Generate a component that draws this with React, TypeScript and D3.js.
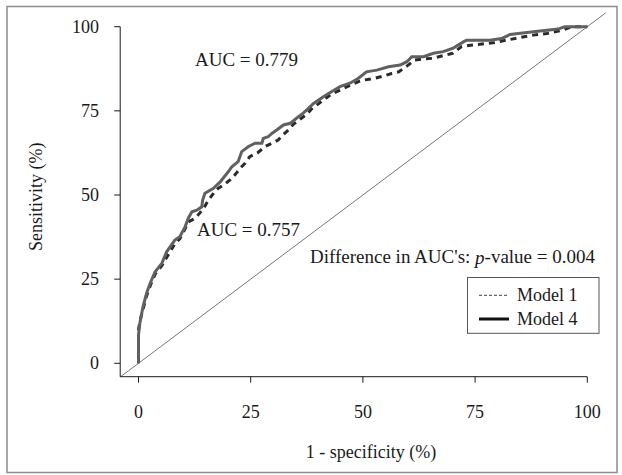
import React from "react";
import * as d3 from "d3";

const W = 622;
const H = 475;

// Model 4 (solid) ROC points: [1 - specificity %, sensitivity %]
const model4FPR = [0, 0, 0.3, 1.0, 1.8, 2.6, 3.7, 5.2, 6.3, 8.1, 9.2, 10.4, 11.1, 11.9, 13.0, 14.1, 14.3, 14.8, 16.7, 18.2, 20.0, 20.8, 22.2, 23.0, 24.5, 26.0, 27.5, 27.8, 28.9, 29.7, 30.8, 32.3, 33.8, 35.2, 36.7, 37.5, 38.2, 39.0, 41.2, 43.0, 44.9, 47.1, 49.0, 50.8, 53.1, 55.7, 58.3, 59.8, 60.9, 63.5, 65.7, 67.9, 70.1, 71.3, 72.4, 73.1, 78.3, 80.9, 82.8, 84.6, 89.5, 93.5, 95.0, 100];
const model4TPR = [0, 8.4, 11.9, 16.8, 20.8, 23.8, 27.2, 29.7, 33.2, 36.6, 37.6, 40.6, 43.1, 45.0, 45.5, 46.5, 48.5, 50.5, 52.0, 53.9, 56.9, 58.4, 59.9, 62.9, 64.4, 65.4, 65.4, 66.8, 67.3, 68.3, 69.3, 70.8, 71.3, 72.8, 74.3, 75.3, 76.2, 77.2, 79.2, 80.7, 82.2, 83.2, 84.7, 86.6, 87.1, 88.1, 88.6, 89.6, 91.1, 91.1, 92.1, 92.6, 93.6, 94.6, 95.5, 96.0, 96.0, 96.5, 97.7, 98.0, 98.7, 99.3, 100, 100];

// Model 1 (dashed) ROC points
const model1FPR = [0, 0, 0.3, 1.0, 1.8, 2.6, 3.7, 5.2, 6.3, 8.1, 9.2, 10.4, 11.1, 12.5, 13.3, 14.5, 15.6, 17.0, 17.8, 19.5, 20.4, 21.5, 22.6, 23.8, 24.8, 26.5, 28.2, 30.0, 31.1, 32.3, 33.4, 34.5, 36.0, 37.5, 38.5, 40.0, 41.5, 43.0, 45.0, 47.0, 49.0, 50.5, 52.7, 55.0, 56.4, 58.0, 60.0, 61.5, 63.5, 65.5, 67.9, 70.0, 72.0, 74.0, 76.1, 79.0, 82.0, 85.0, 88.0, 91.0, 94.6, 96.5, 100];
const model1TPR = [0, 10.0, 12.5, 16.0, 20.0, 23.0, 26.5, 29.0, 31.5, 35.5, 37.0, 40.0, 42.0, 43.0, 44.1, 46.0, 48.5, 51.0, 52.0, 53.5, 54.5, 56.0, 57.9, 59.5, 61.4, 62.5, 64.4, 65.5, 66.3, 68.0, 69.3, 71.0, 72.5, 74.0, 75.5, 77.0, 78.5, 80.0, 81.2, 82.5, 83.7, 84.2, 84.7, 85.5, 86.1, 86.6, 88.5, 90.1, 90.4, 90.6, 91.4, 92.1, 94.1, 94.5, 94.8, 95.2, 96.0, 96.8, 97.5, 98.0, 99.0, 100, 100];

const tickValues = [0, 25, 50, 75, 100];
const tickLabels = ["0", "25", "50", "75", "100"];
const seriesNames = ["Model 1", "Model 4"];
const aucLabels = ["AUC = 0.779", "AUC = 0.757"];

const FONT = "'Liberation Serif', 'Times New Roman', serif";
const FS = 18;
const FS_ANN = 19;

export default function App() {
  const x = d3.scaleLinear().domain([0, 100]).range([138.5, 587.3]);
  const y = d3.scaleLinear().domain([0, 100]).range([363.3, 26.7]);
  const xMin = -4.08;
  const yMin = -3.98;

  const line = d3
    .line<[number, number]>()
    .x((d) => x(d[0]))
    .y((d) => y(d[1]))
    .curve(d3.curveLinear);

  const m4: [number, number][] = model4FPR.map((v, i) => [v, model4TPR[i]]);
  const m1: [number, number][] = model1FPR.map((v, i) => [v, model1TPR[i]]);

  const diag = d3
    .line<number>()
    .x((d) => x(d))
    .y((d) => y(d))([-4.0, 104.1]);

  const axisColor = "#1a1a1a";
  const textColor = "#1a1a1a";

  return (
    <svg
      width={W}
      height={H}
      style={{ position: "absolute", left: 0, top: 0, display: "block", background: "#fff" }}
      fontFamily={FONT}
    >
      <rect x={0} y={0} width={W} height={H} fill="#fff" />
      {/* outer frame */}
      <rect x={7} y={6.5} width={610} height={466} fill="none" stroke="#8c8c8c" strokeWidth={1.5} />

      {/* diagonal reference */}
      <path d={diag || ""} stroke="#7a7a7a" strokeWidth={1} fill="none" />

      {/* curves */}
      <path
        d={line(m1) || ""}
        fill="none"
        stroke="#2a2a2a"
        strokeWidth={3}
        strokeDasharray="6,5"
      />
      <path d={line(m4) || ""} fill="none" stroke="#606060" strokeWidth={3} strokeLinejoin="miter" />

      {/* axes */}
      <line x1={x(xMin)} x2={x(100)} y1={y(yMin)} y2={y(yMin)} stroke={axisColor} strokeWidth={1} />
      <line x1={x(xMin)} x2={x(xMin)} y1={y(yMin)} y2={y(100)} stroke={axisColor} strokeWidth={1} />
      {tickValues.map((t, i) => (
        <g key={"xt" + t}>
          <line x1={x(t)} x2={x(t)} y1={y(yMin)} y2={y(yMin) + 6} stroke={axisColor} />
          <text
            x={x(t)}
            y={411.7}
            textAnchor="middle"
            dominantBaseline="central"
            fontSize={FS}
            fill={textColor}
          >
            {tickLabels[i]}
          </text>
        </g>
      ))}
      {tickValues.map((t, i) => (
        <g key={"yt" + t}>
          <line x1={x(xMin) - 6} x2={x(xMin)} y1={y(t)} y2={y(t)} stroke={axisColor} />
          <text
            x={99}
            y={y(t)}
            textAnchor="end"
            dominantBaseline="central"
            fontSize={FS}
            fill={textColor}
          >
            {tickLabels[i]}
          </text>
        </g>
      ))}

      {/* axis titles */}
      <text x={371} y={451.7} textAnchor="middle" dominantBaseline="central" fontSize={FS} fill={textColor}>
        1 - specificity (%)
      </text>
      <text
        transform="translate(35.7,196.7) rotate(-90)"
        textAnchor="middle"
        dominantBaseline="central"
        fontSize={FS}
        fill={textColor}
      >
        Sensitivity (%)
      </text>

      {/* annotations */}
      <text x={195} y={59.3} dominantBaseline="central" fontSize={FS_ANN} fill={textColor}>
        {aucLabels[0]}
      </text>
      <text x={197} y={229.3} dominantBaseline="central" fontSize={FS_ANN} fill={textColor}>
        {aucLabels[1]}
      </text>
      <text x={595} y={256.7} textAnchor="end" dominantBaseline="central" fontSize={FS_ANN} fill={textColor}>
        Difference in AUC's: <tspan fontStyle="italic">p</tspan>-value = 0.004
      </text>

      {/* legend */}
      <rect x={467.5} y={277.5} width={131.5} height={55.8} fill="#fff" stroke="#555" strokeWidth={1} />
      <line x1={479} x2={509} y1={295.3} y2={295.3} stroke="#666" strokeWidth={1.2} strokeDasharray="3,2" />
      <line x1={479} x2={509} y1={319} y2={319} stroke="#111" strokeWidth={3} />
      <text x={517} y={295.3} dominantBaseline="central" fontSize={FS} fill={textColor}>
        {seriesNames[0]}
      </text>
      <text x={517} y={319} dominantBaseline="central" fontSize={FS} fill={textColor}>
        {seriesNames[1]}
      </text>
    </svg>
  );
}
